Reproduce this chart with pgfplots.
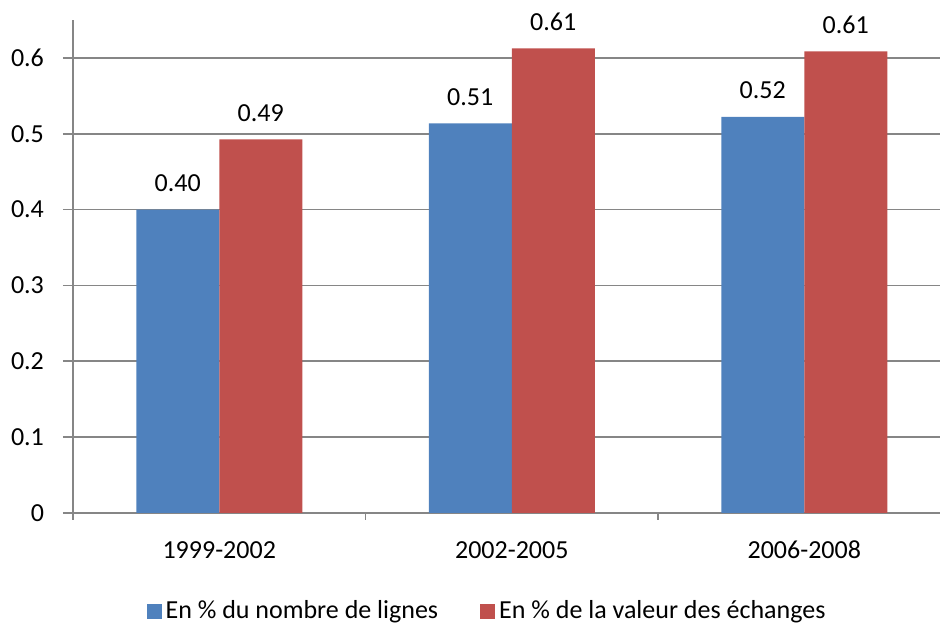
\documentclass[border=0pt]{standalone}
\usepackage{pgfplots}
\pgfplotsset{compat=1.18}
\usepackage{fontspec}
\setmainfont{Carlito}
\definecolor{cblue}{HTML}{4F81BD}
\definecolor{cred}{HTML}{C0504D}
\definecolor{cgrid}{HTML}{868686}
\begin{document}
\fontsize{13pt}{15.6pt}\selectfont
\begin{tikzpicture}
\begin{axis}[
  scale only axis, width=433.5pt, height=246.5pt,
  xmin=-0.5, xmax=2.464, ymin=0, ymax=0.65,
  ybar=0pt, bar width=41.5pt,
  axis lines*=left,
  axis line style={cgrid, line width=0.8pt},
  ytick={0,0.1,0.2,0.3,0.4,0.5,0.6},
  yticklabels={0,0.1,0.2,0.3,0.4,0.5,0.6},
  ymajorgrids, major grid style={cgrid, line width=0.8pt},
  tick align=outside, major tick length=5pt, minor tick length=3.5pt,
  ytick style={cgrid, line width=0.8pt},
  xtick={0,1,2}, xticklabels={1999-2002,2002-2005,2006-2008},
  major x tick style={draw=none},
  minor xtick={-0.5,0.5,1.5},
  minor x tick style={cgrid, line width=0.8pt},
  tick label style={font=\fontsize{13pt}{15.6pt}\selectfont},
  xticklabel style={anchor=base, yshift=-17.7pt},
  yticklabel style={anchor=east, xshift=-5pt},
  /pgf/number format/assume math mode=true,
  legend style={at={(0.4787,-0.1988)}, anchor=center, draw=none, legend columns=2,
    /tikz/every even column/.append style={column sep=19pt},
    font=\fontsize{13pt}{15.6pt}\selectfont},
  legend image code/.code={\fill[#1] (0pt,-3.75pt) rectangle (7.5pt,3.75pt);},
  nodes near coords, point meta=explicit symbolic,
  every node near coord/.append style={font=\fontsize{13pt}{15.6pt}\selectfont, anchor=base, yshift=9pt, black},
]
\addplot[fill=cblue, draw=none]
  coordinates {(0,0.400)[0.40] (1,0.5136)[0.51] (2,0.5224)[0.52]};
\addlegendentry{En \% du nombre de lignes}
\addplot[fill=cred, draw=none]
  coordinates {(0,0.4925)[0.49] (1,0.6126)[0.61] (2,0.6086)[0.61]};
\addlegendentry{En \% de la valeur des échanges}
\coordinate (SW) at (rel axis cs:0,0);
\coordinate (NE) at (rel axis cs:1,1);
\end{axis}
\pgfresetboundingbox
\path[use as bounding box] ([xshift=-36.5pt,yshift=-56pt]SW) rectangle ([yshift=10pt]NE);
\end{tikzpicture}
\end{document}
